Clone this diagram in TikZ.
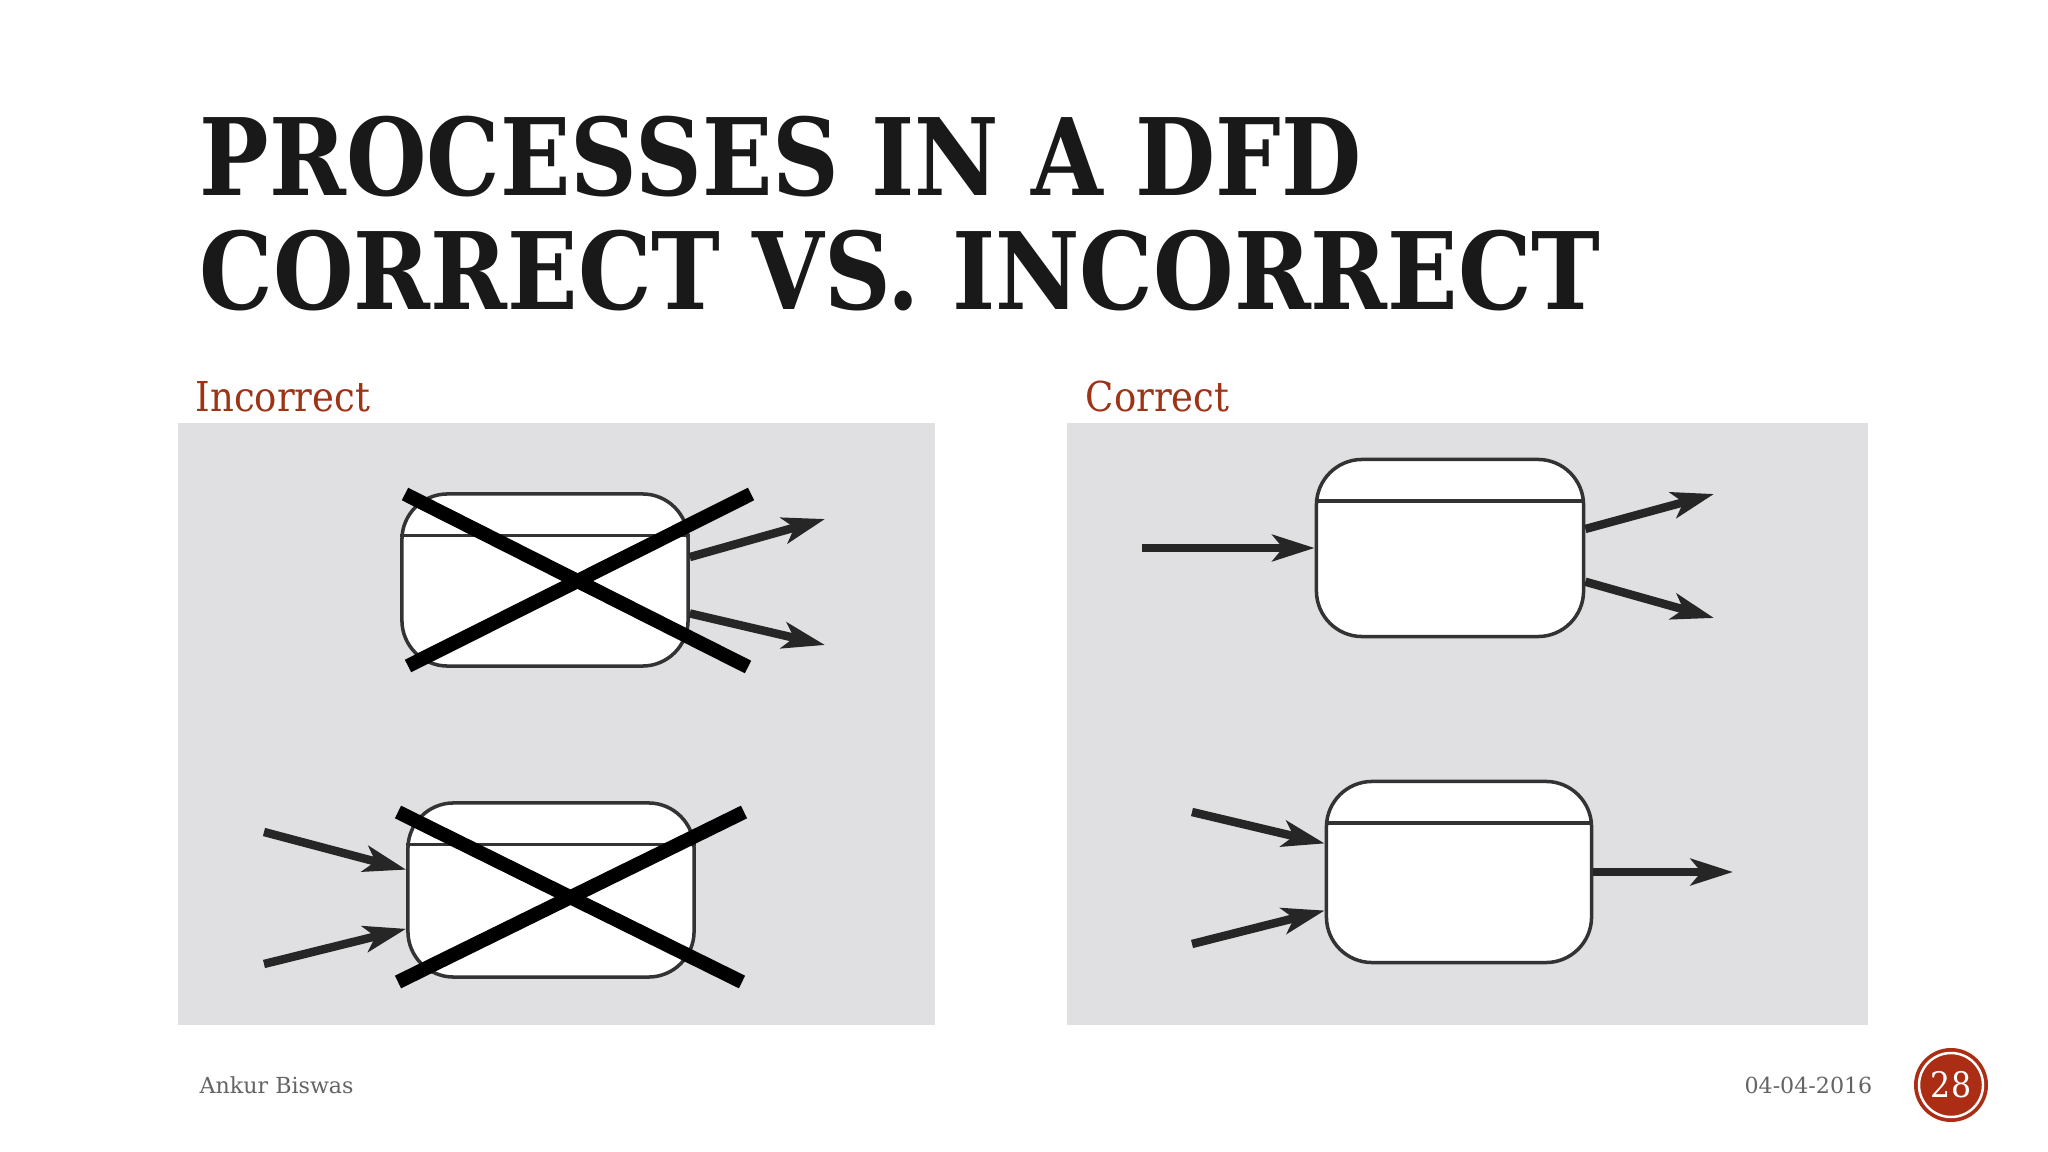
\documentclass[tikz,border=0pt]{standalone}
\usepackage{fontspec}
\setmainfont{DejaVu Serif}
\newfontfamily\slidefont{DejaVu Serif}[FakeStretch=0.9]
\newfontfamily\headfont{DejaVu Serif}[FakeStretch=0.865]
\usetikzlibrary{arrows.meta}
\definecolor{panelgray}{RGB}{224,223,226}
\definecolor{labelred}{RGB}{158,52,22}
\definecolor{pagered}{RGB}{170,45,20}
\definecolor{footgray}{RGB}{100,100,100}

\begin{document}
\begin{tikzpicture}
[x=0.01cm,y=-0.01cm,
proc/.style={draw=black!80,fill=white,line width=1pt,rounded corners=13pt,inner sep=0pt},
flow/.style={line width=2.4pt,draw=black!85,-{Stealth[length=12pt,width=7.5pt,inset=3pt]}},
cross/.style={line width=4pt,black},
label/.style={anchor=base west,inner sep=0pt,text=labelred,font=\slidefont\fontsize{11.7pt}{14pt}\selectfont},
title/.style={anchor=base west,inner sep=0pt,text=black!90,font=\headfont\bfseries\fontsize{30.4pt}{34pt}\selectfont}]
\useasboundingbox (0,0) rectangle (2048,1152);
\fill[white] (0,0) rectangle (2048,1152);
% title
\node[title] (t1) at (199,196) {PROCESSES IN A DFD};
\node[title] (t2) at (199,310) {CORRECT VS. INCORRECT};
\node[label] (lbad) at (195,412) {Incorrect};
\node[label] (lgood) at (1085,412) {Correct};
% panels
\fill[panelgray] (178,423) rectangle (935,1025);
\fill[panelgray] (1067,423) rectangle (1868,1025);
% processes
\node[proc,minimum width=2.86cm,minimum height=1.72cm] (p1) at (545,580) {};
\node[proc,minimum width=2.86cm,minimum height=1.74cm] (p2) at (551,890) {};
\node[proc,minimum width=2.67cm,minimum height=1.77cm] (p3) at (1450,548) {};
\node[proc,minimum width=2.65cm,minimum height=1.81cm] (p4) at (1459,872) {};
\foreach \p in {p1,p2,p3,p4}
\draw[line width=1pt,black!80] ([yshift=-12.3pt]\p.north west) -- ([yshift=-12.3pt]\p.north east);
% free ends
\coordinate (o1) at (825,519);
\coordinate (o2) at (825,645);
\coordinate (i1) at (264,832);
\coordinate (i2) at (264,964);
\coordinate (i3) at (1142,548);
\coordinate (o3) at (1714,494);
\coordinate (o4) at (1714,618);
\coordinate (i4) at (1192,812);
\coordinate (i5) at (1192,944);
\coordinate (o5) at (1733,872);
\foreach \from/\to in {p1.9/o1,p1.347/o2,i1/p2.172,i2/p2.195,i3/p3.west,p3.8/o3,p3.346/o4,i4/p4.168,i5/p4.196,p4.east/o5}
\draw[flow] (\from) -- (\to);
% crossed out
\draw[cross] (405,494) -- (748,667);
\draw[cross] (408,666) -- (751,494);
\draw[cross] (398,812) -- (742,982);
\draw[cross] (398,982) -- (744,812);
% footer
\node[anchor=base west,inner sep=0pt,text=footgray,font=\fontsize{6.3pt}{8pt}\selectfont] (auth) at (199,1093) {Ankur Biswas};
\node[anchor=base east,inner sep=0pt,text=footgray,font=\fontsize{6.3pt}{8pt}\selectfont] (date) at (1873,1093) {04-04-2016};
\fill[pagered] (1951,1085) circle (37);
\draw[white,line width=0.7pt] (1951,1085) circle (32);
\node[text=white,font=\slidefont\fontsize{10pt}{12pt}\selectfont] (pg) at (1951,1085) {28};
\end{tikzpicture}
\end{document}
